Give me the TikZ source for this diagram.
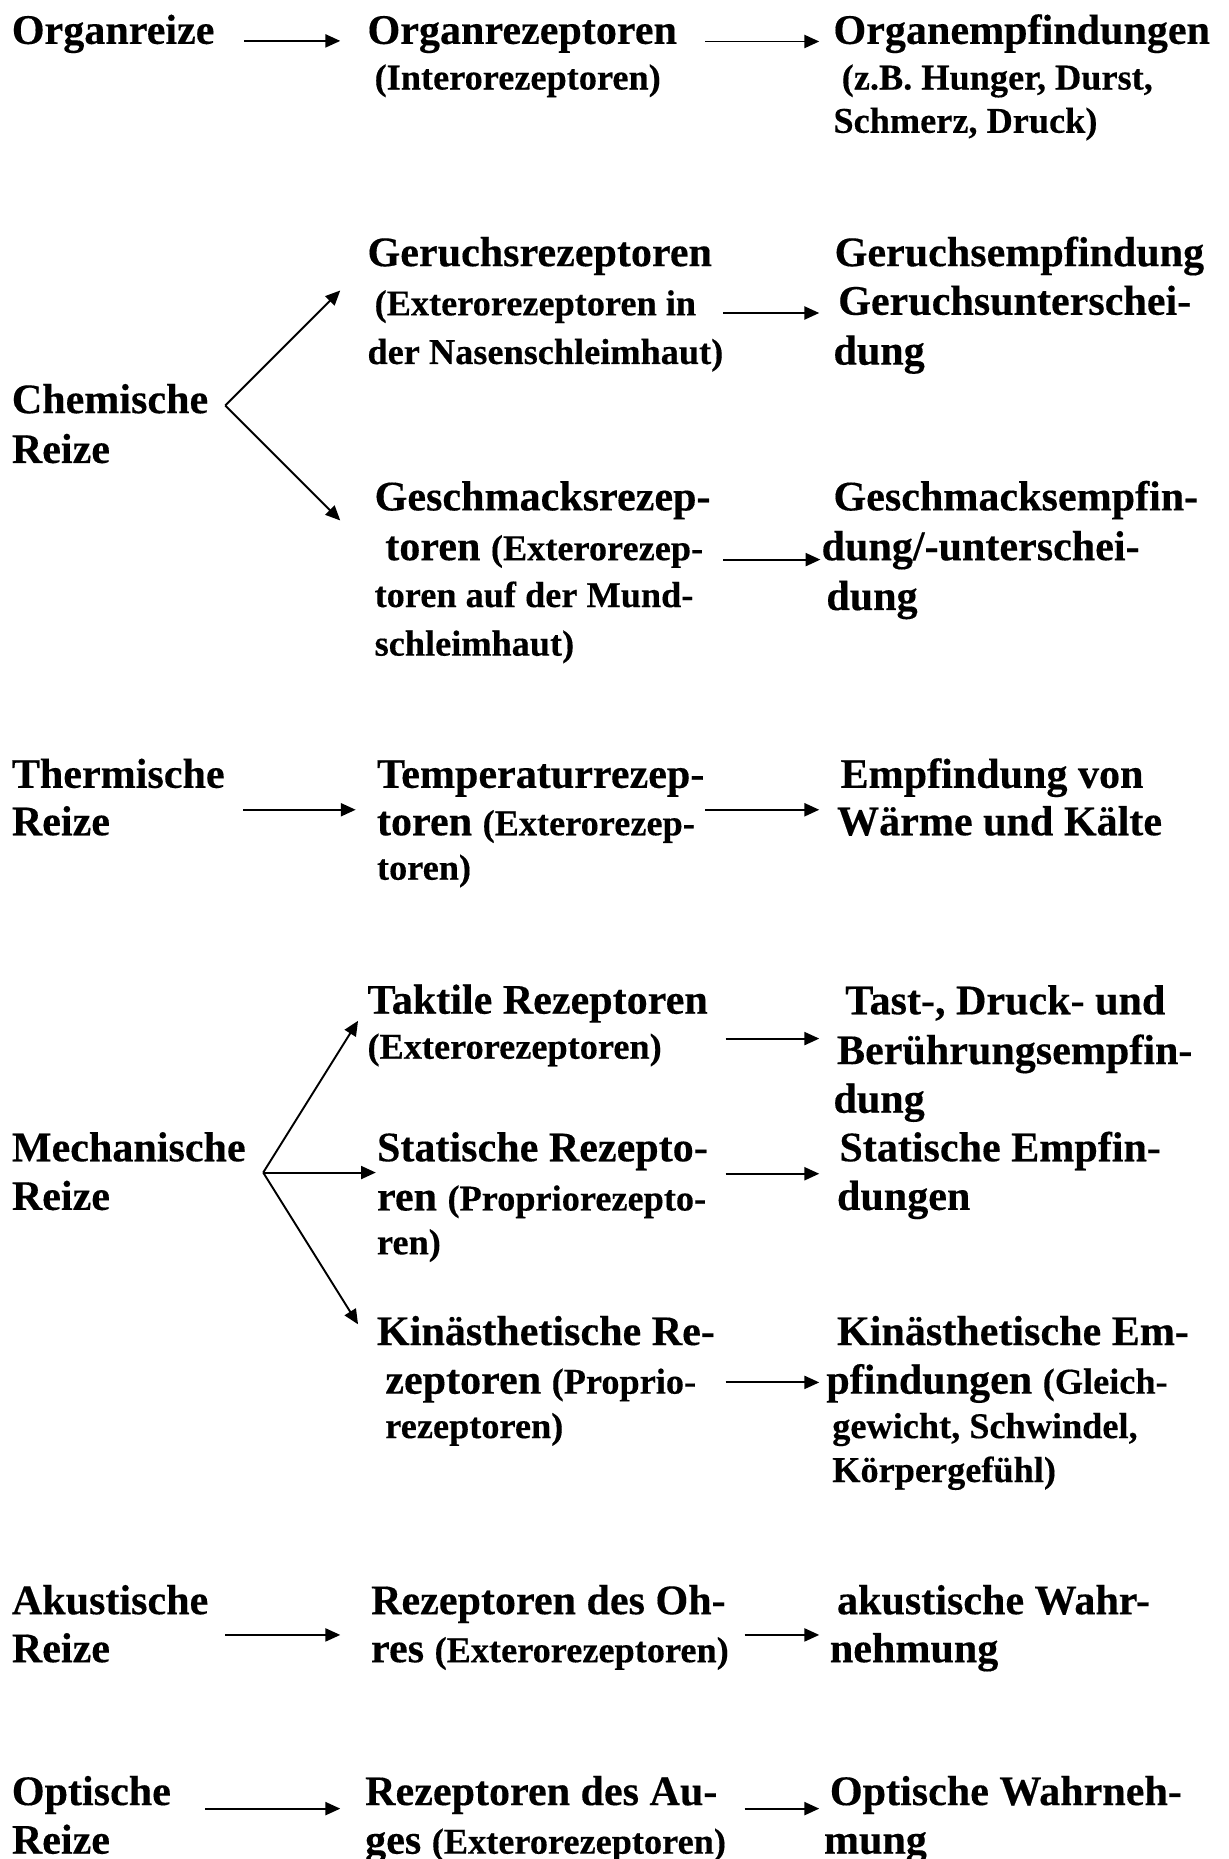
\documentclass[tikz,border=0pt]{standalone}
\usepackage{fontspec}
\setmainfont{Liberation Serif}[BoldFeatures={FakeBold=0.3}]
\usetikzlibrary{arrows.meta}
\newcommand\Lg{\fontsize{35.5}{41}\selectfont\bfseries}
\newcommand\Sm{\fontsize{30.6}{36}\selectfont\bfseries}
\tikzset{
  txt/.style={anchor=base west, inner sep=0pt, outer sep=0pt},
  arr/.style={line width=1.6pt, -{Triangle[length=12.5pt,width=11pt]}}
}
\begin{document}
\begin{tikzpicture}[x=1pt,y=-1pt]
\fill[white] (0,0) rectangle (1036,1568);
\useasboundingbox (0,0) rectangle (1036,1568);
% Row 1
\node[txt] (r1a) at (10,37) {\Lg Organreize};
\node[txt] (r1b) at (310,37) {\Lg Organrezeptoren};
\node[txt] (r1b2) at (316,75.5) {\Sm (Interorezeptoren)};
\node[txt] (r1c) at (703,37) {\Lg Organempfindungen};
\node[txt] (r1c2) at (710,75.5) {\Sm (z.B. Hunger, Durst,};
\node[txt] (r1c3) at (703,112) {\Sm Schmerz, Druck)};
\coordinate (p1s) at (206,34.5); \coordinate (p1e) at (287,34.5);
\coordinate (p1s2) at (595,35); \coordinate (p1e2) at (691,35);
\draw[arr] (p1s) -- (p1e);
\draw[arr] (p1s2) -- (p1e2);
% Row 2 chemische
\node[txt] (r2b) at (310,224.5) {\Lg Geruchsrezeptoren};
\node[txt] (r2b2) at (316,266) {\Sm (Exterorezeptoren in};
\node[txt] (r2b3) at (310,307) {\Sm der Nasenschleimhaut)};
\node[txt] (r2c) at (704,224.5) {\Lg Geruchsempfindung};
\node[txt] (r2c2) at (707,265.5) {\Lg Geruchsunterschei-};
\node[txt] (r2c3) at (703,307.5) {\Lg dung};
\node[txt] (r2a) at (10,348.5) {\Lg Chemische};
\node[txt] (r2a2) at (10,390.5) {\Lg Reize};
\coordinate (f2) at (190,342);
\coordinate (f2u) at (287,245);
\coordinate (f2d) at (287,439);
\draw[arr] (f2) -- (f2u);
\draw[arr] (f2) -- (f2d);
\coordinate (p2s) at (610,264); \coordinate (p2e) at (691,264);
\draw[arr] (p2s) -- (p2e);
\node[txt] (r2d) at (316,430.5) {\Lg Geschmacksrezep-};
\node[txt] (r2d2) at (325,472.5) {\Lg toren \Sm(Exterorezep-};
\node[txt] (r2d3) at (316,512) {\Sm toren auf der Mund-};
\node[txt] (r2d4) at (316,553) {\Sm schleimhaut)};
\node[txt] (r2e) at (703,430.5) {\Lg Geschmacksempfin-};
\node[txt] (r2e2) at (693,472.5) {\Lg dung/-unterschei-};
\node[txt] (r2e3) at (697,514.5) {\Lg dung};
\coordinate (p3s) at (610,472); \coordinate (p3e) at (692,472);
\draw[arr] (p3s) -- (p3e);
% Row 3 thermische
\node[txt] (r3a) at (10,664.5) {\Lg Thermische};
\node[txt] (r3a2) at (10,704.5) {\Lg Reize};
\node[txt] (r3b) at (318,664.5) {\Lg Temperaturrezep-};
\node[txt] (r3b2) at (318,704.5) {\Lg toren \Sm(Exterorezep-};
\node[txt] (r3b3) at (318,742) {\Sm toren)};
\node[txt] (r3c) at (709,664.5) {\Lg Empfindung von};
\node[txt] (r3c2) at (706,704.5) {\Lg Wärme und Kälte};
\coordinate (p4s) at (205,683); \coordinate (p4e) at (300,683);
\coordinate (p4s2) at (595,683); \coordinate (p4e2) at (691,683);
\draw[arr] (p4s) -- (p4e);
\draw[arr] (p4s2) -- (p4e2);
% Row 4 mechanische
\node[txt] (r4b) at (310,855) {\Lg Taktile Rezeptoren};
\node[txt] (r4b2) at (310,893) {\Sm (Exterorezeptoren)};
\node[txt] (r4c) at (713,855.5) {\Lg Tast-, Druck- und};
\node[txt] (r4c2) at (706,897.5) {\Lg Berührungsempfin-};
\node[txt] (r4c3) at (703,938.5) {\Lg dung};
\coordinate (p5s) at (612,876); \coordinate (p5e) at (691,876);
\draw[arr] (p5s) -- (p5e);
\node[txt] (r4a) at (10,979.5) {\Lg Mechanische};
\node[txt] (r4a2) at (10,1020.5) {\Lg Reize};
\coordinate (f4) at (222,989);
\coordinate (f4u) at (302,861);
\coordinate (f4m) at (317,989);
\coordinate (f4d) at (302,1117);
\draw[arr] (f4) -- (f4u);
\draw[arr] (f4) -- (f4m);
\draw[arr] (f4) -- (f4d);
\node[txt] (r4d) at (318,979.5) {\Lg Statische Rezepto-};
\node[txt] (r4d2) at (318,1021) {\Lg ren \Sm(Propriorezepto-};
\node[txt] (r4d3) at (318,1058) {\Sm ren)};
\node[txt] (r4e) at (708,979.5) {\Lg Statische Empfin-};
\node[txt] (r4e2) at (706,1020.5) {\Lg dungen};
\coordinate (p6s) at (612,990); \coordinate (p6e) at (691,990);
\draw[arr] (p6s) -- (p6e);
\node[txt] (r4f) at (318,1134.5) {\Lg Kinästhetische Re-};
\node[txt] (r4f2) at (325,1175.5) {\Lg zeptoren \Sm(Proprio-};
\node[txt] (r4f3) at (325,1213) {\Sm rezeptoren)};
\node[txt] (r4g) at (706,1134.5) {\Lg Kinästhetische Em-};
\node[txt] (r4g2) at (697,1175.5) {\Lg pfindungen \Sm(Gleich-};
\node[txt] (r4g3) at (702,1213) {\Sm gewicht, Schwindel,};
\node[txt] (r4g4) at (702,1250) {\Sm Körpergefühl)};
\coordinate (p7s) at (612,1166); \coordinate (p7e) at (691,1166);
\draw[arr] (p7s) -- (p7e);
% Row 5 akustische
\node[txt] (r5a) at (10,1361.5) {\Lg Akustische};
\node[txt] (r5a2) at (10,1402) {\Lg Reize};
\node[txt] (r5b) at (313,1361.5) {\Lg Rezeptoren des Oh-};
\node[txt] (r5b2) at (313,1402) {\Lg res \Sm(Exterorezeptoren)};
\node[txt] (r5c) at (706,1361.5) {\Lg akustische Wahr-};
\node[txt] (r5c2) at (700,1402) {\Lg nehmung};
\coordinate (p8s) at (190,1379); \coordinate (p8e) at (287,1379);
\coordinate (p8s2) at (628,1379); \coordinate (p8e2) at (691,1379);
\draw[arr] (p8s) -- (p8e);
\draw[arr] (p8s2) -- (p8e2);
% Row 6 optische
\node[txt] (r6a) at (10,1522.5) {\Lg Optische};
\node[txt] (r6a2) at (10,1563.5) {\Lg Reize};
\node[txt] (r6b) at (308,1522.5) {\Lg Rezeptoren des Au-};
\node[txt] (r6b2) at (308,1563.5) {\Lg ges \Sm(Exterorezeptoren)};
\node[txt] (r6c) at (700,1522.5) {\Lg Optische Wahrneh-};
\node[txt] (r6c2) at (695,1563.5) {\Lg mung};
\coordinate (p9s) at (173,1525.5); \coordinate (p9e) at (287,1525.5);
\coordinate (p9s2) at (628,1525.5); \coordinate (p9e2) at (691,1525.5);
\draw[arr] (p9s) -- (p9e);
\draw[arr] (p9s2) -- (p9e2);
\end{tikzpicture}
\end{document}
